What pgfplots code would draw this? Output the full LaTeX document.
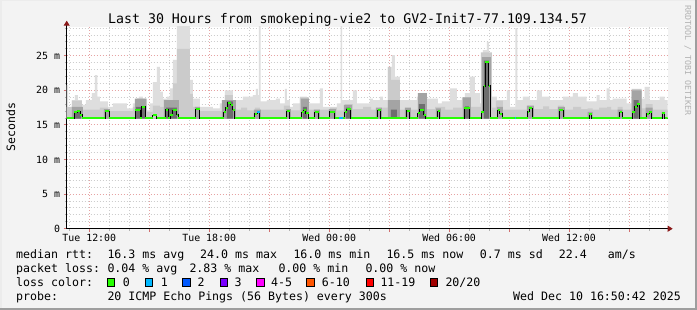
\documentclass[border=0pt]{standalone}
\usepackage{fontspec}
\usepackage{pgfplots}
\pgfplotsset{compat=1.18}
\usetikzlibrary{arrows.meta}
\newfontfamily\mono{DejaVu Sans Mono}
\definecolor{bg}{HTML}{F3F3F3}
\definecolor{smA}{HTML}{DEDEDE}
\definecolor{smB}{HTML}{CBCBCB}
\definecolor{smC}{HTML}{A4A4A4}
\definecolor{smD}{HTML}{6E6E6E}
\definecolor{gridred}{HTML}{E6A3A3}
\definecolor{gridgray}{HTML}{CDCDCD}
\definecolor{tickred}{HTML}{D07070}
\definecolor{arrowred}{HTML}{8B1A1A}
\definecolor{lc0}{HTML}{26FF00}
\definecolor{lc1}{HTML}{00B8FF}
\definecolor{lc2}{HTML}{0059FF}
\definecolor{lc3}{HTML}{7A00FF}
\definecolor{lc4}{HTML}{FF00FF}
\definecolor{lc6}{HTML}{FF5500}
\definecolor{lc11}{HTML}{FF0000}
\definecolor{lc20}{HTML}{A10000}
\begin{document}
\begin{tikzpicture}
\useasboundingbox (0,0) rectangle (697bp,310bp);
\fill[bg] (0,0) rectangle (697bp,310bp);
\draw[line width=1.5bp,color=white!85!gray] (0.75bp,0) -- (0.75bp,309.25bp) -- (697bp,309.25bp);
\draw[line width=2bp,color=black!38] (0,1bp) -- (696bp,1bp) -- (696bp,310bp);
\begin{axis}[
  at={(66.7bp,81.3bp)}, anchor=south west,
  scale only axis, width=601bp, height=202bp,
  xmin=10.87, xmax=40.935, ymin=0, ymax=29.2,
  axis background/.style={fill=white},
  axis x line=bottom, axis y line=left,
  axis line style={black, line width=0.9bp},
  x axis line style={-{Triangle[length=5bp,width=6bp,color=arrowred]}, shorten >=-5bp},
  y axis line style={-{Triangle[length=5bp,width=6bp,color=arrowred]}, shorten >=-6bp},
  xtick={12,15,...,39},
  xticklabels={Tue 12:00,{},Tue 18:00,{},Wed 00:00,{},Wed 06:00,{},Wed 12:00,{}},
  minor xtick={11,13,14,16,17,19,20,22,23,25,26,28,29,31,32,34,35,37,38,40},
  ytick={0,5,...,25},
  yticklabels={0,5 m,10 m,15 m,20 m,25 m},
  minor ytick={1,2,3,4,6,7,8,9,11,12,13,14,16,17,18,19,21,22,23,24,26,27,28,29},
  grid=both,
  major grid style={draw=gridred, line width=0.9bp, dash pattern=on 1bp off 2bp},
  minor grid style={draw=gridgray, line width=0.9bp, dash pattern=on 1bp off 2bp},
  tick align=outside, major tick length=3bp, minor tick length=2bp,
  major tick style={draw=tickred, line width=0.9bp},
  minor tick style={draw=gray!60, line width=0.9bp},
  ticklabel style={font=\mono\fontsize{9.9bp}{11bp}\selectfont, inner sep=0pt},
  xticklabel style={anchor=north, yshift=-2bp},
  yticklabel style={anchor=east, xshift=-3.5bp},
]
% lightest smoke (max ping)
\addplot[const plot, fill=smA, draw=none] coordinates {
(10.87,20.8) (10.935,17.4) (11.135,18.6) (11.285,19.3) (11.435,18.6) (11.635,17.9) (11.835,18.6)
(12.135,19.6) (12.285,22.2) (12.40,19.1) (12.535,18.4) (12.935,17.6) (13.185,18.1) (13.885,17.4)
(14.185,18.1) (14.385,18.8) (14.485,19.1) (14.685,17.4) (14.885,17.1) (15.035,18.1) (15.185,21.2)
(15.385,23.4) (15.535,19.8) (15.685,18.8) (15.885,19.1) (16.035,20.3) (16.185,24.4) (16.385,30)
(17.035,21.5) (17.185,18.8) (17.535,17.6) (18.185,17.4) (18.535,18.1) (18.785,20.0) (19.185,18.6)
(19.685,19.1) (20.185,19.3) (20.335,20.2) (20.435,19.3) (20.485,30) (20.57,18.4) (20.885,18.6)
(21.335,18.8) (21.535,18.1) (21.785,20.2) (21.885,18.6) (22.035,17.6) (22.185,18.1) (22.535,19.1)
(22.885,18.1) (23.535,20.3) (23.685,17.6) (24.385,18.1) (24.57,30) (24.65,18.6) (25.185,20.0)
(25.385,18.1) (26.035,18.8) (26.185,18.6) (26.535,19.1) (26.685,18.6) (26.935,23.4) (27.135,25.1)
(27.285,22.0) (27.535,18.6) (28.385,19.1) (28.635,18.4) (28.885,18.8) (29.435,18.1) (29.635,18.4)
(30.035,20.3) (30.385,18.6) (30.785,19.6) (31.035,22.0) (31.285,19.6) (31.535,18.1) (31.685,25.8)
(31.885,27.0) (31.985,24.6) (32.135,19.1) (32.385,18.6) (32.885,20.0) (33.035,17.6) (33.32,29.0)
(33.42,18.6) (33.685,19.1) (34.035,18.6) (34.385,20.0) (34.635,19.1) (35.035,18.6) (35.685,19.1)
(36.185,19.6) (36.435,19.1) (36.885,18.4) (37.385,19.3) (37.535,18.6) (37.885,20.3) (38.035,18.6)
(38.185,18.8) (38.885,18.1) (39.135,19.1) (39.385,20.0) (39.485,18.8) (39.785,20.5) (40.035,18.6)
(40.535,19.1) (40.785,18.6) (40.935,18.6) (40.935,15.9) (10.87,15.9)} -- cycle;
% mid smoke
\addplot[const plot, fill=smB, draw=none] coordinates {
(10.87,17.6) (11.135,18.5) (11.635,17.2) (12.535,17.5) (12.935,17.0) (14.185,17.6) (14.385,18.8)
(14.885,16.9) (15.185,17.8) (15.535,17.6) (15.885,18.4) (16.185,21.0) (16.385,26.0) (17.035,19.5)
(17.185,17.6) (17.535,17.0) (18.785,19.3) (19.185,17.2) (19.6,17.5) (19.9,17.1) (20.285,17.5)
(20.535,17.2) (21.735,17.8) (22.035,17.1) (22.535,19.0) (22.985,17.2) (24.035,17.5) (24.385,17.1)
(24.785,18.0) (25.185,17.3) (25.7,17.6) (26.1,17.2) (26.5,17.5) (26.935,23.4) (27.085,21.5)
(27.535,17.2) (28.485,19.5) (28.835,17.3) (29.3,17.6) (29.8,17.2) (30.2,17.5) (30.635,19.0)
(31.085,17.6) (31.585,25.5) (32.135,17.5) (32.335,18.5) (32.685,17.2) (33.935,17.8) (34.185,17.3)
(34.7,17.7) (35.0,17.3) (35.435,17.8) (35.735,17.2) (36.2,17.6) (36.6,17.3) (36.935,17.4)
(37.185,17.2) (37.5,17.5) (37.9,17.6) (38.1,17.2) (38.435,17.6) (38.685,17.2) (39.135,20.2)
(39.635,17.4) (39.835,18.0) (40.185,17.2) (40.935,17.2) (40.935,15.9) (10.87,15.9)} -- cycle;
% dark smoke
\addplot[const plot, fill=smC, draw=none] coordinates {
(10.87,15.9) (11.135,17.6) (11.685,15.9) (12.735,17.3) (13.035,15.9) (14.285,18.8) (14.835,15.9)
(15.735,18.6) (16.485,15.9) (17.285,17.6) (17.535,15.9) (18.635,18.6) (19.335,15.9) (20.235,17.2)
(20.585,15.9) (21.835,17.3) (22.085,15.9) (22.585,18.8) (22.985,15.9) (23.235,17.2) (23.535,15.9)
(23.985,17.3) (24.335,15.9) (24.735,17.9) (25.135,15.9) (26.335,17.5) (26.635,15.9) (26.935,18.6)
(27.535,15.9) (27.785,17.5) (28.085,15.9) (28.435,19.6) (28.885,15.9) (29.335,17.4) (29.585,15.9)
(30.685,19.0) (31.085,15.9) (31.635,24.8) (32.085,15.9) (32.385,17.6) (32.685,15.9) (33.885,17.8)
(34.235,15.9) (35.435,17.6) (35.785,15.9) (36.935,16.9) (37.185,15.9) (38.435,17.2) (38.685,15.9)
(39.135,20.0) (39.635,15.9) (39.835,17.5) (40.185,15.9) (40.635,16.9) (40.785,15.9) (40.935,15.9)
(10.87,15.9)} -- cycle;
% darkest smoke
\addplot[const plot, fill=smD, draw=none] coordinates {
(10.87,15.9) (11.285,17.0) (11.585,15.9) (14.335,17.6) (14.785,15.9) (15.835,17.5) (16.385,15.9)
(18.885,18.4) (19.185,15.9) (22.685,17.6) (22.885,15.9) (24.835,17.5) (25.035,15.9) (27.085,17.2)
(27.385,15.9) (28.485,18.0) (28.785,15.9) (30.785,17.7) (30.985,15.9) (31.735,24.3) (31.985,15.9)
(39.235,18.6) (39.485,15.9) (40.935,15.9) (10.87,15.9)} -- cycle;
% median rtt: connecting line
\addplot[const plot, black, line width=0.9bp] coordinates {
(10.87,16.0) (11.25,16.8) (11.385,17.0) (11.535,16.5) (11.635,16.0) (12.80,17.0) (13.0,16.0)
(14.285,17.15) (14.535,16.0) (14.62,17.6) (14.785,16.0) (15.17,16.4) (15.37,16.0) (15.82,17.2)
(15.95,16.0) (16.035,16.4) (16.185,17.1) (16.385,16.5) (16.45,16.0) (17.335,17.25) (17.535,16.0)
(18.735,16.8) (18.835,17.5) (18.935,18.2) (19.085,17.9) (19.185,17.2) (19.285,16.0) (20.285,16.6)
(20.41,16.8) (20.535,16.0) (21.885,17.0) (22.035,16.0) (22.635,16.8) (22.735,17.1) (22.835,16.7)
(22.985,16.0) (23.285,16.8) (23.485,16.0) (24.035,16.9) (24.285,16.0) (24.785,16.8) (24.885,17.3)
(25.085,16.0) (26.42,17.1) (26.585,16.0) (27.87,17.05) (28.035,16.0) (28.435,16.7) (28.535,17.2)
(28.735,16.5) (28.835,16.0) (29.42,17.0) (29.535,16.0) (30.75,17.4) (31.035,16.0) (31.62,16.9)
(31.735,20.6) (31.82,24.1) (31.985,20.7) (32.07,16.0) (32.435,17.1) (32.535,16.6) (32.67,16.0)
(33.935,16.9) (34.01,17.4) (34.17,16.0) (35.5,17.1) (35.7,16.0) (37.01,16.6) (37.135,16.0)
(38.535,16.8) (38.67,16.0) (39.17,16.8) (39.285,17.6) (39.4,18.0) (39.535,16.0) (39.885,16.6)
(40.01,16.9) (40.135,16.0) (40.67,16.7) (40.785,16.0) (40.935,16.0)};
% median rtt: loss-coloured segments
\addplot[jump mark left, lc0, line width=2bp] coordinates {
(10.87,16.0) (11.25,16.8) (11.385,17.0) (11.535,16.5) (11.635,16.0) (12.80,17.0) (13.0,16.0)
(14.285,17.15) (14.535,16.0) (14.62,17.6) (14.785,16.0) (15.17,16.4) (15.37,16.0) (15.82,17.2)
(15.95,16.0) (16.035,16.4) (16.185,17.1) (16.385,16.5) (16.45,16.0) (17.335,17.25) (17.535,16.0)
(18.735,16.8) (18.835,17.5) (18.935,18.2) (19.085,17.9) (19.185,17.2) (19.285,16.0) (20.285,16.6)
(20.41,16.8) (20.535,16.0) (21.885,17.0) (22.035,16.0) (22.635,16.8) (22.735,17.1) (22.835,16.7)
(22.985,16.0) (23.285,16.8) (23.485,16.0) (24.035,16.9) (24.285,16.0) (24.785,16.8) (24.885,17.3)
(25.085,16.0) (26.42,17.1) (26.585,16.0) (27.87,17.05) (28.035,16.0) (28.435,16.7) (28.535,17.2)
(28.735,16.5) (28.835,16.0) (29.42,17.0) (29.535,16.0) (30.75,17.4) (31.035,16.0) (31.62,16.9)
(31.735,20.6) (31.82,24.1) (31.985,20.7) (32.07,16.0) (32.435,17.1) (32.535,16.6) (32.67,16.0)
(33.935,16.9) (34.01,17.4) (34.17,16.0) (35.5,17.1) (35.7,16.0) (37.01,16.6) (37.135,16.0)
(38.535,16.8) (38.67,16.0) (39.17,16.8) (39.285,17.6) (39.4,18.0) (39.535,16.0) (39.885,16.6)
(40.01,16.9) (40.135,16.0) (40.67,16.7) (40.785,16.0) (40.935,16.0)};
\addplot[lc1, line width=2bp] coordinates {(20.41,16.8) (20.535,16.8)};
\addplot[lc1, line width=2bp] coordinates {(24.485,16.0) (24.685,16.0)};
\addplot[lc1, line width=2bp] coordinates {(33.285,16.0) (33.37,16.0)};
\end{axis}
% title and labels
\node[anchor=base, inner sep=0pt, font=\mono\fontsize{13.25bp}{15bp}\selectfont] at (347.5bp,286bp)
  {Last 30 Hours from smokeping-vie2 to GV2-Init7-77.109.134.57};
\node[rotate=90, anchor=base, inner sep=0pt, font=\mono\fontsize{11.5bp}{13bp}\selectfont] at (15bp,183bp) {Seconds};
\node[rotate=-90, anchor=base west, inner sep=0pt, text=black!30, font=\mono\fontsize{8.3bp}{10bp}\selectfont] at (685bp,305bp) {RRDTOOL / TOBI OETIKER};
% legend
\begin{scope}[every node/.style={anchor=base west, inner sep=0pt, font=\mono\fontsize{11.6bp}{13bp}\selectfont}]
\node at (16bp,51.4bp) {median rtt:};
\node at (107.3bp,51.4bp) {16.3 ms avg};
\node at (200bp,51.4bp) {24.0 ms max};
\node at (293.3bp,51.4bp) {16.0 ms min};
\node at (386.3bp,51.4bp) {16.5 ms now};
\node at (479.7bp,51.4bp) {0.7 ms sd};
\node at (558.7bp,51.4bp) {22.4};
\node at (607.7bp,51.4bp) {am/s};
\node at (16bp,37.4bp) {packet loss:};
\node at (107.3bp,37.4bp) {0.04 \% avg};
\node at (189.3bp,37.4bp) {2.83 \% max};
\node at (278.3bp,37.4bp) {0.00 \% min};
\node at (365.3bp,37.4bp) {0.00 \% now};
\node at (16bp,23.5bp) {loss color:};
\node at (122.7bp,23.5bp) {0};
\node at (160.7bp,23.5bp) {1};
\node at (197.3bp,23.5bp) {2};
\node at (234.3bp,23.5bp) {3};
\node at (271bp,23.5bp) {4-5};
\node at (321.7bp,23.5bp) {6-10};
\node at (380.3bp,23.5bp) {11-19};
\node at (445.3bp,23.5bp) {20/20};
\node at (16bp,9.7bp) {probe:};
\node at (107.3bp,9.7bp) {20 ICMP Echo Pings (56 Bytes) every 300s};
\node at (513bp,9.7bp) {Wed Dec 10 16:50:42 2025};
\end{scope}
\begin{scope}[line width=0.8bp]
\filldraw[fill=lc0, draw=black] (107.6bp,23.6bp) rectangle ++(7.2bp,7.6bp);
\filldraw[fill=lc1, draw=black] (145bp,23.6bp) rectangle ++(7.2bp,7.6bp);
\filldraw[fill=lc2, draw=black] (182.7bp,23.6bp) rectangle ++(7.2bp,7.6bp);
\filldraw[fill=lc3, draw=black] (220bp,23.6bp) rectangle ++(7.2bp,7.6bp);
\filldraw[fill=lc4, draw=black] (256.7bp,23.6bp) rectangle ++(7.2bp,7.6bp);
\filldraw[fill=lc6, draw=black] (306.7bp,23.6bp) rectangle ++(7.2bp,7.6bp);
\filldraw[fill=lc11, draw=black] (366bp,23.6bp) rectangle ++(7.2bp,7.6bp);
\filldraw[fill=lc20, draw=black] (430.3bp,23.6bp) rectangle ++(7.2bp,7.6bp);
\end{scope}
\end{tikzpicture}
\end{document}
